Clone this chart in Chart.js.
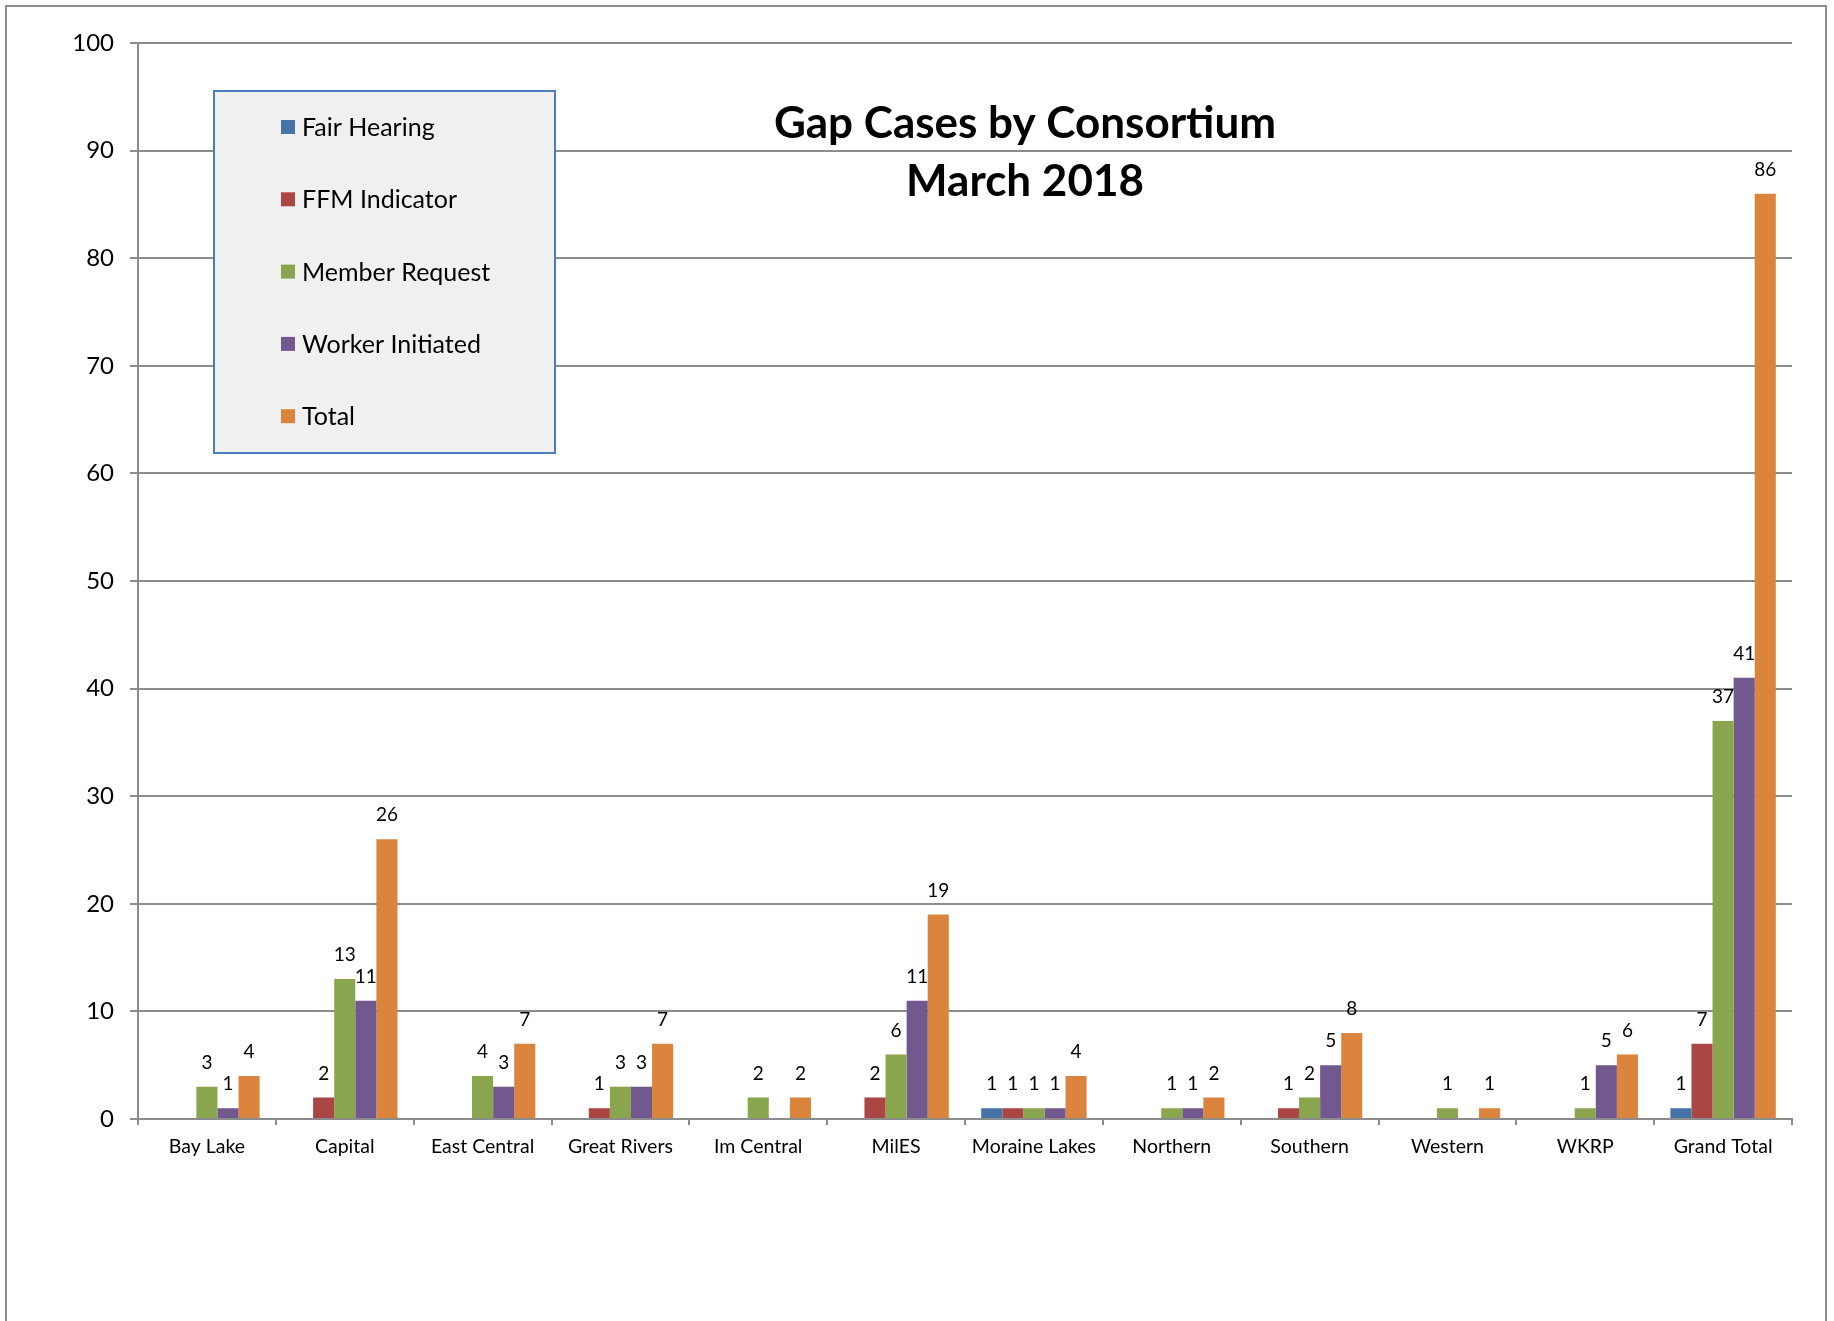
<!DOCTYPE html>
<html>
<head>
<meta charset="utf-8">
<title>Gap Cases by Consortium</title>
<script src="https://cdn.jsdelivr.net/npm/chart.js@4.4.0/dist/chart.umd.min.js"></script>
<style>
  html, body { margin: 0; padding: 0; background: #fff; overflow: hidden; }
  #frame {
    position: absolute; left: 5px; top: 5px;
    width: 1822px; height: 1400px;
    border: 2px solid #8e8e8e; box-sizing: border-box;
  }
  #gapChart { position: absolute; left: 0; top: 0; }
</style>
</head>
<body>
<div id="frame"></div>
<canvas id="gapChart" width="1834" height="1321"></canvas>
<script>
// values
const consortia = ['Bay Lake', 'Capital', 'East Central', 'Great Rivers', 'Im Central', 'MilES',
    'Moraine Lakes', 'Northern', 'Southern', 'Western', 'WKRP', 'Grand Total'];

const fairHearing     = [0, 0, 0, 0, 0, 0, 1, 0, 0, 0, 0, 1];
const ffmIndicator    = [0, 2, 0, 1, 0, 2, 1, 0, 1, 0, 0, 7];
const memberRequest   = [3, 13, 4, 3, 2, 6, 1, 1, 2, 1, 1, 37];
const workerInitiated = [1, 11, 3, 3, 0, 11, 1, 1, 5, 0, 5, 41];
const totals          = [4, 26, 7, 7, 2, 19, 4, 2, 8, 1, 6, 86];

const seriesNames = ['Fair Hearing', 'FFM Indicator', 'Member Request', 'Worker Initiated', 'Total'];
const seriesValues = [fairHearing, ffmIndicator, memberRequest, workerInitiated, totals];
const seriesColors = ['#4572a7', '#aa4643', '#89a54e', '#71588f', '#db843d'];

const yMin = 0;
const yMax = 100;
const yStep = 10;

const titleLines = ['Gap Cases by Consortium', 'March 2018'];

const FONT = 'Lato, "Open Sans", sans-serif';
const GRID = '#8c8c8c';

// numbers above each non-zero bar
const valueLabels = {
    id: 'valueLabels',
    afterDatasetsDraw(chart) {
        const ctx = chart.ctx;
        ctx.save();
        ctx.font = '19px ' + FONT;
        ctx.fillStyle = '#000';
        ctx.textAlign = 'center';
        ctx.textBaseline = 'middle';
        chart.data.datasets.forEach((ds, i) => {
            chart.getDatasetMeta(i).data.forEach((bar, j) => {
                const v = ds.data[j];
                if (!v) return;
                ctx.fillText(String(v), bar.x, bar.y - 24);
            });
        });
        ctx.restore();
    }
};

// boxed legend sitting inside the plot, plus the two line title
const boxLegend = {
    id: 'boxLegend',
    afterDraw(chart) {
        const ctx = chart.ctx;
        ctx.save();

        const bx = 214, by = 91, bw = 341, bh = 362;
        ctx.fillStyle = '#f0f0f0';
        ctx.fillRect(bx, by, bw, bh);
        ctx.strokeStyle = '#4a7ebb';
        ctx.lineWidth = 2;
        ctx.strokeRect(bx, by, bw, bh);

        ctx.font = '25px ' + FONT;
        ctx.textAlign = 'left';
        ctx.textBaseline = 'middle';
        chart.data.datasets.forEach((ds, i) => {
            const cy = 127 + i * 72.3;
            ctx.fillStyle = ds.backgroundColor;
            ctx.fillRect(281, cy - 7, 14, 14);
            ctx.fillStyle = '#000';
            ctx.fillText(ds.label, 302, cy + 1);
        });

        ctx.font = 'bold 44px ' + FONT;
        ctx.textAlign = 'center';
        ctx.textBaseline = 'alphabetic';
        ctx.fillText(titleLines[0], 1025, 138);
        ctx.fillText(titleLines[1], 1025, 196);

        ctx.restore();
    }
};

document.addEventListener('DOMContentLoaded', function() {
    const ctx = document.getElementById('gapChart');

    new Chart(ctx, {
        type: 'bar',
        data: {
            labels: consortia,
            datasets: seriesNames.map((name, i) => ({
                label: name,
                data: seriesValues[i],
                backgroundColor: seriesColors[i],
                borderWidth: 0,
                categoryPercentage: 0.765,
                barPercentage: 1.0
            }))
        },
        options: {
            responsive: false,
            animation: false,
            layout: { padding: { top: 43, right: 42, left: 0, bottom: 0 } },
            plugins: {
                legend: { display: false },
                title: { display: false },
                tooltip: { enabled: false }
            },
            scales: {
                x: {
                    grid: {
                        drawOnChartArea: false,
                        offset: true,
                        color: GRID,
                        lineWidth: 2,
                        tickLength: 6
                    },
                    border: { color: GRID, width: 2 },
                    ticks: {
                        color: '#000',
                        font: { family: FONT, size: 19.5 },
                        padding: 10,
                        maxRotation: 0,
                        autoSkip: false
                    },
                    afterFit: scale => { scale.height = 202; }
                },
                y: {
                    min: yMin,
                    max: yMax,
                    ticks: {
                        stepSize: yStep,
                        color: '#000',
                        font: { family: FONT, size: 24 },
                        padding: 16
                    },
                    grid: { color: GRID, lineWidth: 2, tickLength: 8 },
                    border: { color: GRID, width: 2 },
                    afterFit: scale => { scale.width = 138; }
                }
            }
        },
        plugins: [valueLabels, boxLegend]
    });
});
</script>
</body>
</html>
